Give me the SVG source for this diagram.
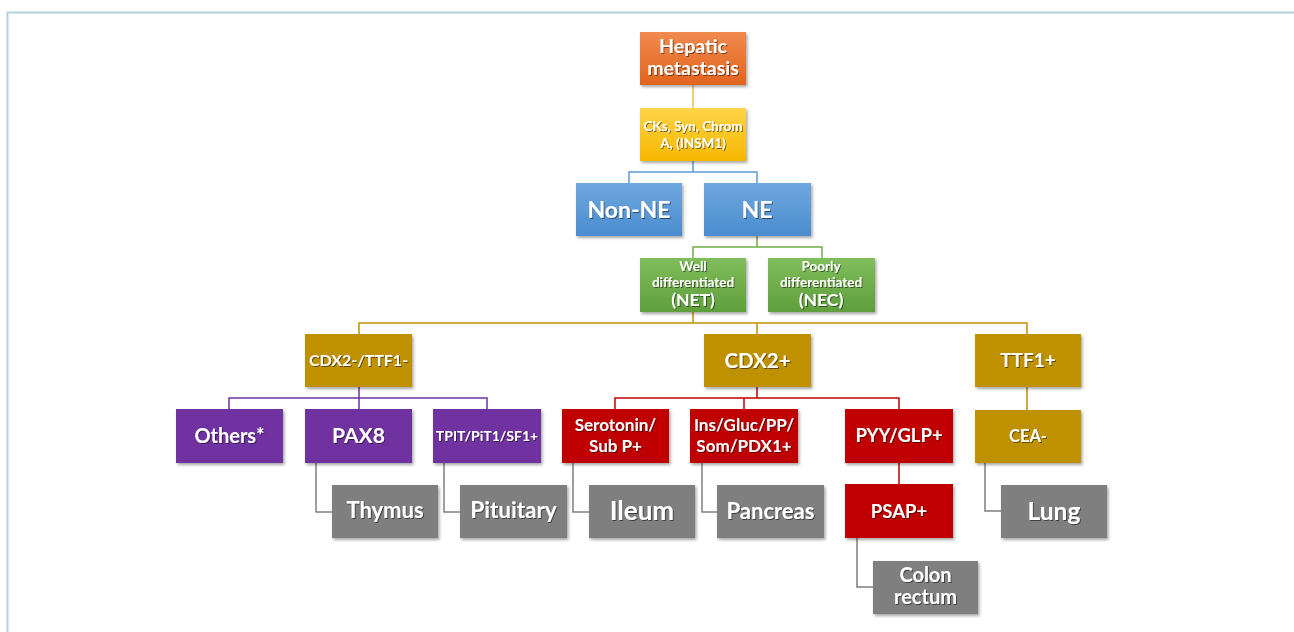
<svg xmlns="http://www.w3.org/2000/svg" width="1294" height="632" viewBox="0 0 1294 632">
<style>
  text { font-family: Lato, "Open Sans", "Liberation Sans", sans-serif; font-weight: bold; fill: #ffffff; text-anchor: middle; filter: url(#ts); }
  .box { filter: url(#bs); }
  .c { fill: none; stroke-width: 1.5; }
</style>
<defs>
  <filter id="bs" x="-10%" y="-10%" width="125%" height="130%">
    <feDropShadow dx="1.5" dy="2" stdDeviation="1.5" flood-color="#000" flood-opacity="0.35"/>
  </filter>
  <filter id="ts" x="-10%" y="-20%" width="125%" height="150%">
    <feDropShadow dx="1" dy="1" stdDeviation="0.7" flood-color="#000" flood-opacity="0.5"/>
  </filter>
  <linearGradient id="gOr" x1="0" y1="0" x2="0" y2="1"><stop offset="0" stop-color="#f08a4e"/><stop offset="1" stop-color="#e2641d"/></linearGradient>
  <linearGradient id="gYe" x1="0" y1="0" x2="0" y2="1"><stop offset="0" stop-color="#ffd447"/><stop offset="1" stop-color="#f6b800"/></linearGradient>
  <linearGradient id="gBl" x1="0" y1="0" x2="0" y2="1"><stop offset="0" stop-color="#6fa8df"/><stop offset="1" stop-color="#4a8ccf"/></linearGradient>
  <linearGradient id="gGr" x1="0" y1="0" x2="0" y2="1"><stop offset="0" stop-color="#80bd5c"/><stop offset="1" stop-color="#5f9f3b"/></linearGradient>
</defs>
<rect width="1294" height="632" fill="#ffffff"/>
<path d="M7.5 632 V12.5 H1294" fill="none" stroke="#b4d3d9" stroke-width="2"/>

<g id="connectors">
  <path class="c" stroke="#f2b84b" d="M693 85 V108"/>
  <path class="c" stroke="#5b9bd5" d="M693 161 V172 M629 183 V172 H757 V183"/>
  <path class="c" stroke="#70ad47" d="M757 236 V247 M693 258 V247 H822 V258"/>
  <path class="c" stroke="#bf9000" d="M693 312 V323 M359 334 V323 H1027 V334 M757 323 V334 M1027 387 V410"/>
  <path class="c" stroke="#7030a0" d="M359 387 V398 M229 409 V398 H487 V409 M359 398 V409"/>
  <path class="c" stroke="#c00000" d="M757 387 V398 M615 409 V398 H899 V409 M744 398 V409 M899 463 V484"/>
  <path class="c" stroke="#7f7f7f" d="M316 463 V512 H332 M444 463 V512 H460 M573 463 V512 H589 M702 463 V512 H717 M857 538 V587 H873 M985 463 V511 H1001"/>
</g>

<g id="hepatic"><rect class="box" x="640" y="32" width="106" height="53" fill="url(#gOr)"/>
  <text x="693" y="53" font-size="19.5">Hepatic</text><text x="693" y="75" font-size="19.5">metastasis</text></g>
<g id="cks"><rect class="box" x="640" y="108" width="106" height="53" fill="url(#gYe)"/>
  <text x="693" y="131" font-size="13.5">CKs, Syn, Chrom</text><text x="693" y="148" font-size="13.5">A, (INSM1)</text></g>
<g id="non-ne"><rect class="box" x="576" y="183" width="106" height="53" fill="url(#gBl)"/>
  <text x="629" y="218" font-size="23">Non-NE</text></g>
<g id="ne"><rect class="box" x="704" y="183" width="107" height="53" fill="url(#gBl)"/>
  <text x="757" y="218" font-size="23">NE</text></g>
<g id="well"><rect class="box" x="640" y="258" width="106" height="54" fill="url(#gGr)"/>
  <text x="693" y="271" font-size="13.5">Well</text><text x="693" y="286.5" font-size="13.5">differentiated</text><text x="693" y="306" font-size="17.5">(NET)</text></g>
<g id="poorly"><rect class="box" x="768" y="258" width="107" height="54" fill="url(#gGr)"/>
  <text x="821" y="271" font-size="13.5">Poorly</text><text x="821" y="286.5" font-size="13.5">differentiated</text><text x="821" y="306" font-size="17.5">(NEC)</text></g>

<g id="cdx2neg"><rect class="box" x="305" y="334" width="107" height="53" fill="#bf9000"/>
  <text x="358.5" y="366" font-size="16">CDX2-/TTF1-</text></g>
<g id="cdx2pos"><rect class="box" x="704" y="334" width="107" height="53" fill="#bf9000"/>
  <text x="757.5" y="368" font-size="20.5">CDX2+</text></g>
<g id="ttf1pos"><rect class="box" x="975" y="334" width="106" height="53" fill="#bf9000"/>
  <text x="1028" y="367" font-size="19">TTF1+</text></g>

<g id="others"><rect class="box" x="176" y="409" width="107" height="54" fill="#7030a0"/>
  <text x="229.5" y="442.5" font-size="20">Others*</text></g>
<g id="pax8"><rect class="box" x="305" y="409" width="107" height="54" fill="#7030a0"/>
  <text x="358.5" y="443" font-size="21">PAX8</text></g>
<g id="tpit"><rect class="box" x="433" y="409" width="108" height="54" fill="#7030a0"/>
  <text x="487" y="441" font-size="14">TPIT/PiT1/SF1+</text></g>
<g id="serotonin"><rect class="box" x="562" y="409" width="107" height="54" fill="#c00000"/>
  <text x="615.5" y="431" font-size="17">Serotonin/</text><text x="615.5" y="452" font-size="17">Sub P+</text></g>
<g id="ins"><rect class="box" x="690" y="409" width="108" height="54" fill="#c00000"/>
  <text x="744" y="431" font-size="17">Ins/Gluc/PP/</text><text x="744" y="452" font-size="17">Som/PDX1+</text></g>
<g id="pyy"><rect class="box" x="845" y="409" width="108" height="54" fill="#c00000"/>
  <text x="899" y="442" font-size="18.5">PYY/GLP+</text></g>
<g id="cea"><rect class="box" x="975" y="410" width="106" height="53" fill="#bf9000"/>
  <text x="1028" y="442" font-size="16.5">CEA-</text></g>

<g id="thymus"><rect class="box" x="332" y="485" width="106" height="53" fill="#7f7f7f"/>
  <text x="385" y="518" font-size="22">Thymus</text></g>
<g id="pituitary"><rect class="box" x="460" y="485" width="107" height="53" fill="#7f7f7f"/>
  <text x="513.5" y="518" font-size="22.5">Pituitary</text></g>
<g id="ileum"><rect class="box" x="589" y="485" width="106" height="53" fill="#7f7f7f"/>
  <text x="642" y="519.5" font-size="26">Ileum</text></g>
<g id="pancreas"><rect class="box" x="717" y="485" width="107" height="53" fill="#7f7f7f"/>
  <text x="770.5" y="518.5" font-size="22">Pancreas</text></g>
<g id="psap"><rect class="box" x="845" y="484" width="108" height="54" fill="#c00000"/>
  <text x="899" y="518" font-size="18.5">PSAP+</text></g>
<g id="lung"><rect class="box" x="1001" y="485" width="106" height="53" fill="#7f7f7f"/>
  <text x="1054" y="519.5" font-size="24.5">Lung</text></g>
<g id="colon"><rect class="box" x="873" y="561" width="105" height="53" fill="#7f7f7f"/>
  <text x="925.5" y="582" font-size="20">Colon</text><text x="925.5" y="604" font-size="20">rectum</text></g>
</svg>
